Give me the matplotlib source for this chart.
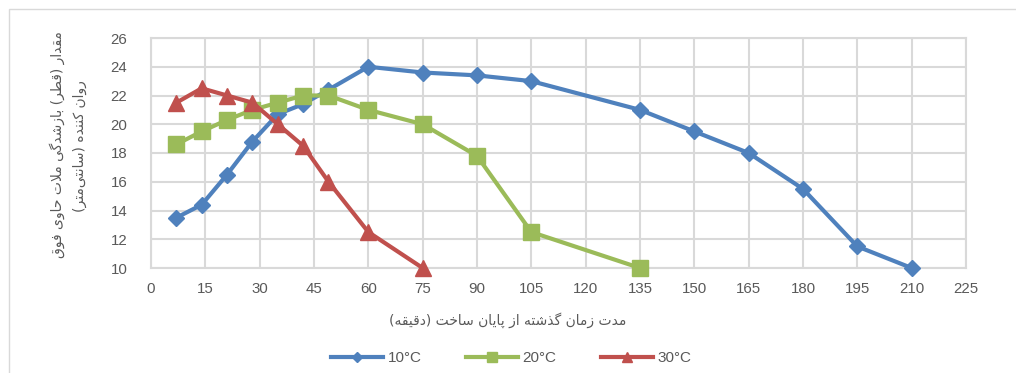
import matplotlib
matplotlib.use('Agg')
import matplotlib.pyplot as plt
from matplotlib.patches import Rectangle

# data
t_10 = [7, 14, 21, 28, 35, 42, 49, 60, 75, 90, 105, 135, 150, 165, 180, 195, 210]
d_10 = [13.5, 14.4, 16.5, 18.8, 20.7, 21.4, 22.4, 24.0, 23.6, 23.4, 23.0, 21.0, 19.5, 18.0, 15.5, 11.5, 10.0]
t_20 = [7, 14, 21, 28, 35, 42, 49, 60, 75, 90, 105, 135]
d_20 = [18.6, 19.5, 20.3, 21.0, 21.5, 22.0, 22.0, 21.0, 20.0, 17.8, 12.5, 10.0]
t_30 = [7, 14, 21, 28, 35, 42, 49, 60, 75]
d_30 = [21.5, 22.5, 22.0, 21.5, 20.0, 18.5, 16.0, 12.5, 10.0]
labels = ['10°C', '20°C', '30°C']
x_ticks = list(range(0, 226, 15))
y_ticks = list(range(10, 27, 2))

ylabel_1 = 'مقدار (قطر) بازشدگی ملات حاوی فوق'
ylabel_2 = 'روان کننده (سانتی\u200cمتر)'
xlabel = 'مدت زمان گذشته از پایان ساخت (دقیقه)'

# minimal arabic/persian shaping: (isolated, final, initial, medial)
FORMS = {
    'ا': (0xFE8D, 0xFE8E, None, None),
    'ب': (0xFE8F, 0xFE90, 0xFE91, 0xFE92),
    'پ': (0xFB56, 0xFB57, 0xFB58, 0xFB59),
    'ت': (0xFE95, 0xFE96, 0xFE97, 0xFE98),
    'ح': (0xFEA1, 0xFEA2, 0xFEA3, 0xFEA4),
    'خ': (0xFEA5, 0xFEA6, 0xFEA7, 0xFEA8),
    'د': (0xFEA9, 0xFEAA, None, None),
    'ذ': (0xFEAB, 0xFEAC, None, None),
    'ر': (0xFEAD, 0xFEAE, None, None),
    'ز': (0xFEAF, 0xFEB0, None, None),
    'س': (0xFEB1, 0xFEB2, 0xFEB3, 0xFEB4),
    'ش': (0xFEB5, 0xFEB6, 0xFEB7, 0xFEB8),
    'ط': (0xFEC1, 0xFEC2, 0xFEC3, 0xFEC4),
    'ع': (0xFEC9, 0xFECA, 0xFECB, 0xFECC),
    'ف': (0xFED1, 0xFED2, 0xFED3, 0xFED4),
    'ق': (0xFED5, 0xFED6, 0xFED7, 0xFED8),
    'ک': (0xFB8E, 0xFB8F, 0xFB90, 0xFB91),
    'گ': (0xFB92, 0xFB93, 0xFB94, 0xFB95),
    'ل': (0xFEDD, 0xFEDE, 0xFEDF, 0xFEE0),
    'م': (0xFEE1, 0xFEE2, 0xFEE3, 0xFEE4),
    'ن': (0xFEE5, 0xFEE6, 0xFEE7, 0xFEE8),
    'ه': (0xFEE9, 0xFEEA, 0xFEEB, 0xFEEC),
    'و': (0xFEED, 0xFEEE, None, None),
    'ی': (0xFBFC, 0xFBFD, 0xFBFE, 0xFBFF),
}
MIRROR = {'(': ')', ')': '('}


def shape_rtl(s):
    # lam + alef ligature
    chars = []
    i = 0
    while i < len(s):
        if s[i] == 'ل' and i + 1 < len(s) and s[i + 1] == 'ا':
            chars.append('LA')
            i += 2
        else:
            chars.append(s[i])
            i += 1

    def joins_next(c):
        return c in FORMS and FORMS[c][2] is not None

    def is_letter(c):
        return c in FORMS or c == 'LA'

    out = []
    for k, c in enumerate(chars):
        prev = chars[k - 1] if k > 0 else ''
        nxt = chars[k + 1] if k + 1 < len(chars) else ''
        con_prev = joins_next(prev) and is_letter(c)
        if c == 'LA':
            out.append(chr(0xFEFC) if con_prev else chr(0xFEFB))
            continue
        if c not in FORMS:
            if c != '\u200c':
                out.append(c)
            continue
        con_next = joins_next(c) and is_letter(nxt)
        iso, fin, ini, med = FORMS[c]
        if con_prev and con_next:
            code = med
        elif con_prev:
            code = fin
        elif con_next:
            code = ini
        else:
            code = iso
        out.append(chr(code))
    return ''.join(MIRROR.get(c, c) for c in reversed(out))


text_col = '#595959'
grid_col = '#D9D9D9'
plt.rcParams['font.family'] = ['Liberation Sans', 'DejaVu Sans']

fig = plt.figure(figsize=(10.16, 3.73), dpi=100)
ax = fig.add_axes([151 / 1016, 1 - 268 / 373, 815 / 1016, 230 / 373])
fig.patches.append(Rectangle((9 / 1016, -0.1), 1.2, 1 - 9 / 373 + 0.1, transform=fig.transFigure,
                             fill=False, edgecolor='#D9D9D9', linewidth=1.0))

ax.plot(t_10, d_10, color='#4F81BD', lw=3.0, marker='D', markersize=8.5, label=labels[0], zorder=3, clip_on=False)
ax.plot(t_20, d_20, color='#9BBB59', lw=3.0, marker='s', markersize=11.5, label=labels[1], zorder=3, clip_on=False)
ax.plot(t_30, d_30, color='#C0504D', lw=3.0, marker='^', markersize=12, label=labels[2], zorder=3, clip_on=False)

ax.set_xlim(0, 225)
ax.set_ylim(10, 26)
ax.set_xticks(x_ticks)
ax.set_yticks(y_ticks)
ax.grid(True, color=grid_col, linewidth=1.5)
ax.set_axisbelow(True)
for sp in ax.spines.values():
    sp.set_color(grid_col)
    sp.set_linewidth(1.5)
ax.tick_params(length=0, colors=text_col, labelsize=10.8)
ax.tick_params(axis='y', pad=17)
ax.tick_params(axis='x', pad=10)

fig.text(508 / 1016, 1 - 320 / 373, shape_rtl(xlabel), ha='center', va='center',
         fontsize=10, color=text_col, family='DejaVu Sans')
fig.text(57 / 1016, 1 - 145 / 373, shape_rtl(ylabel_1), ha='center', va='center', rotation=90,
         fontsize=10, color=text_col, family='DejaVu Sans')
fig.text(80 / 1016, 1 - 146 / 373, shape_rtl(ylabel_2), ha='center', va='center', rotation=90,
         fontsize=10, color=text_col, family='DejaVu Sans')

leg = fig.legend(loc='center', bbox_to_anchor=(511 / 1016, 1 - 358 / 373), ncol=3, frameon=False,
                 handlelength=3.4, columnspacing=2.9, fontsize=11, handletextpad=0.3, markerscale=0.6)
for t in leg.get_texts():
    t.set_color(text_col)

fig.savefig('out.png', dpi=100)
